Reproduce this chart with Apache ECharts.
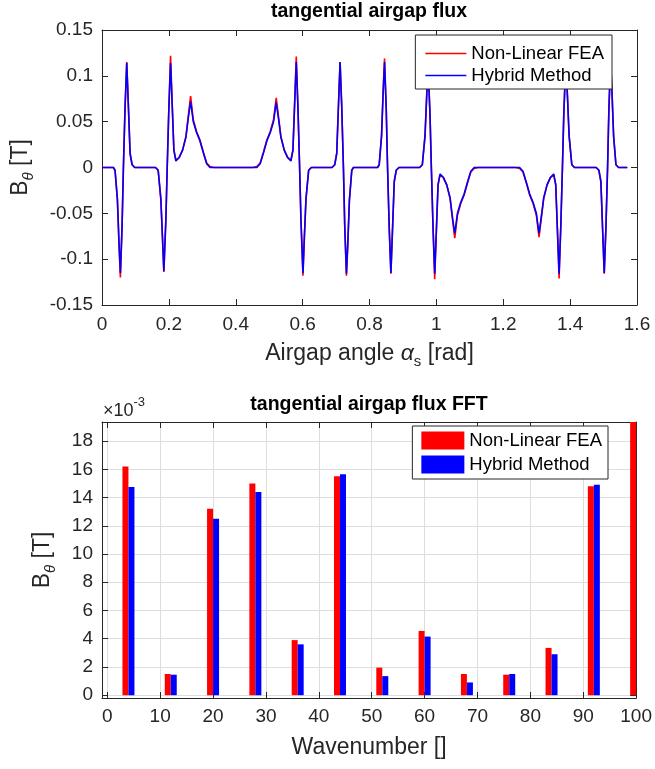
<!DOCTYPE html>
<html>
<head>
<meta charset="utf-8">
<script src="https://cdn.jsdelivr.net/npm/echarts@6/dist/echarts.min.js"></script>
<style>
  html, body { margin: 0; padding: 0; background: #fff; }
  #chart { width: 655px; height: 769px; }
</style>
</head>
<body>
<div id="chart"></div>
<script>
// tangential airgap flux (rad / T)
const angle = [
  0, 0.034, 0.039, 0.046, 0.051, 0.055, 0.060, 0.064, 0.069, 0.074, 0.079, 0.084, 0.090, 0.098,
  0.160, 0.168, 0.176, 0.181, 0.185, 0.191, 0.195, 0.200, 0.205, 0.211, 0.215, 0.221, 0.231, 0.241, 0.251, 0.258, 0.265, 0.273, 0.283, 0.293, 0.303, 0.313, 0.323, 0.335,
  0.450, 0.463, 0.473, 0.483, 0.493, 0.503, 0.513, 0.521, 0.528, 0.535, 0.545, 0.555, 0.565, 0.571, 0.575, 0.581, 0.586, 0.591, 0.595, 0.601, 0.605, 0.610, 0.618, 0.626,
  0.688, 0.696, 0.702, 0.707, 0.712, 0.717, 0.722, 0.726, 0.731, 0.735, 0.740, 0.747, 0.752,
  0.824, 0.829, 0.836, 0.841, 0.845, 0.850, 0.854, 0.859, 0.864, 0.869, 0.874, 0.880, 0.888,
  0.950, 0.958, 0.966, 0.971, 0.975, 0.981, 0.985, 0.990, 0.995, 1.001, 1.005, 1.011, 1.021, 1.031, 1.041, 1.048, 1.055, 1.063, 1.073, 1.083, 1.093, 1.103, 1.113, 1.125,
  1.237, 1.249, 1.259, 1.269, 1.279, 1.289, 1.299, 1.307, 1.314, 1.321, 1.331, 1.341, 1.351, 1.357, 1.361, 1.367, 1.372, 1.377, 1.381, 1.387, 1.392, 1.397, 1.405, 1.413,
  1.478, 1.486, 1.492, 1.497, 1.502, 1.507, 1.512, 1.516, 1.521, 1.525, 1.530, 1.537, 1.545, 1.571
];
const fluxFEA = [
  0, 0, -0.003, -0.035, -0.086, -0.120, -0.065, 0, 0.066, 0.115, 0.066, 0.016, 0.003, 0,
  0, -0.003, -0.035, -0.079, -0.114, -0.057, 0, 0.066, 0.122, 0.059, 0.019, 0.008, 0.011, 0.019, 0.034, 0.056, 0.078, 0.052, 0.039, 0.030, 0.017, 0.005, 0.001, 0,
  0, 0.001, 0.005, 0.017, 0.030, 0.039, 0.052, 0.076, 0.055, 0.034, 0.019, 0.011, 0.008, 0.019, 0.059, 0.121, 0.066, 0, -0.057, -0.118, -0.079, -0.035, -0.003, 0,
  0, 0.003, 0.016, 0.066, 0.115, 0.066, 0, -0.065, -0.118, -0.086, -0.035, -0.003, 0,
  0, 0.003, 0.035, 0.086, 0.119, 0.065, 0, -0.066, -0.116, -0.066, -0.016, -0.003, 0,
  0, 0.003, 0.035, 0.079, 0.114, 0.057, 0, -0.066, -0.122, -0.059, -0.019, -0.008, -0.011, -0.019, -0.034, -0.056, -0.077, -0.052, -0.039, -0.030, -0.017, -0.005, -0.001, 0,
  0, -0.001, -0.005, -0.017, -0.030, -0.039, -0.052, -0.076, -0.055, -0.034, -0.019, -0.011, -0.008, -0.019, -0.059, -0.121, -0.066, 0, 0.057, 0.116, 0.079, 0.035, 0.003, 0,
  0, -0.003, -0.016, -0.066, -0.116, -0.066, 0, 0.065, 0.117, 0.086, 0.035, 0.003, 0, 0
];
const fluxHybrid = [
  0, 0, -0.003, -0.034, -0.083, -0.115, -0.064, 0, 0.066, 0.114, 0.066, 0.015, 0.003, 0,
  0, -0.003, -0.034, -0.077, -0.113, -0.057, 0, 0.065, 0.114, 0.058, 0.019, 0.007, 0.011, 0.019, 0.033, 0.054, 0.072, 0.050, 0.038, 0.029, 0.016, 0.004, 0, 0,
  0, 0, 0.004, 0.016, 0.029, 0.038, 0.050, 0.071, 0.053, 0.033, 0.019, 0.011, 0.007, 0.019, 0.058, 0.115, 0.065, 0, -0.057, -0.115, -0.077, -0.034, -0.003, 0,
  0, 0.003, 0.015, 0.066, 0.115, 0.066, 0, -0.064, -0.116, -0.083, -0.035, -0.003, 0,
  0, 0.003, 0.034, 0.083, 0.115, 0.064, 0, -0.066, -0.115, -0.066, -0.015, -0.003, 0,
  0, 0.003, 0.034, 0.077, 0.113, 0.057, 0, -0.065, -0.116, -0.058, -0.019, -0.007, -0.011, -0.019, -0.033, -0.054, -0.072, -0.050, -0.038, -0.029, -0.016, -0.004, 0, 0,
  0, 0, -0.004, -0.016, -0.029, -0.038, -0.050, -0.072, -0.053, -0.033, -0.019, -0.011, -0.007, -0.019, -0.058, -0.116, -0.065, 0, 0.057, 0.115, 0.077, 0.034, 0.003, 0,
  0, -0.003, -0.015, -0.066, -0.115, -0.066, 0, 0.064, 0.115, 0.083, 0.034, 0.003, 0, 0
];

// FFT amplitudes (x 10^-3 T); the hybrid bar at 100 falls outside the axes
const waveNumbers = [4, 12, 20, 28, 36, 44, 52, 60, 68, 76, 84, 92, 100];
const fftFEA = [16.2, 1.5, 13.2, 15.0, 3.9, 15.5, 1.95, 4.55, 1.5, 1.45, 3.35, 14.8, 30];
const fftHybrid = [14.75, 1.45, 12.5, 14.4, 3.6, 15.65, 1.35, 4.15, 0.9, 1.5, 2.9, 14.9, null];

const seriesNames = ["Non-Linear FEA", "Hybrid Method"];

const FONT = '"Liberation Sans", Arial, sans-serif';
const INK = "#262626";
const RED = "#ff0000";
const BLUE = "#0000ff";

const chart = echarts.init(document.getElementById("chart"));

function boxAxis(gridIndex, position) {
  // axis without labels, only for the inward ticks on the top / right edge
  return {
    gridIndex: gridIndex,
    type: "value",
    position: position,
    axisLine: { show: true, onZero: false, lineStyle: { color: INK, width: 1 } },
    axisTick: { show: true, inside: true, length: 6, lineStyle: { color: INK } },
    axisLabel: { show: false },
    splitLine: { show: false }
  };
}

const mainAxisLine = { show: true, onZero: false, lineStyle: { color: INK, width: 1 } };
const mainTick = { show: true, inside: true, length: 6, lineStyle: { color: INK } };
const tickLabel = { color: INK, fontSize: 19, fontFamily: FONT };
const thetaName = {
  rich: {
    b: { fontSize: 23, fontFamily: FONT, color: INK, lineHeight: 30 },
    s: { fontSize: 15, fontFamily: FONT, color: INK, lineHeight: 15, verticalAlign: "bottom", fontStyle: "italic" }
  }
};

const option = {
  animation: false,
  backgroundColor: "#fff",
  textStyle: { fontFamily: FONT },
  title: [
    {
      text: "tangential airgap flux",
      left: 369, top: 2, textAlign: "center", padding: 0,
      textStyle: { fontSize: 19.5, fontWeight: "bold", color: "#000", fontFamily: FONT }
    },
    {
      text: "tangential airgap flux FFT",
      left: 369, top: 395, textAlign: "center", padding: 0,
      textStyle: { fontSize: 19.5, fontWeight: "bold", color: "#000", fontFamily: FONT }
    }
  ],
  legend: [
    {
      data: [
        { name: seriesNames[0], icon: "rect", itemStyle: { color: RED, borderWidth: 0 } },
        { name: seriesNames[1], icon: "rect", itemStyle: { color: BLUE, borderWidth: 0 } }
      ],
      orient: "vertical",
      right: 43, top: 35,
      padding: [9, 8, 4, 10],
      itemGap: 3,
      itemWidth: 41, itemHeight: 1.5,
      backgroundColor: "#fff",
      borderColor: INK, borderWidth: 1,
      textStyle: { fontSize: 18.5, color: "#000", fontFamily: FONT }
    },
    {
      data: [
        { name: seriesNames[0], icon: "rect", itemStyle: { color: RED, borderWidth: 0 } },
        { name: seriesNames[1], icon: "rect", itemStyle: { color: BLUE, borderWidth: 0 } }
      ],
      orient: "vertical",
      right: 47, top: 426,
      padding: [5, 6, 5, 9],
      itemGap: 5,
      itemWidth: 43, itemHeight: 18,
      backgroundColor: "#fff",
      borderColor: INK, borderWidth: 1,
      textStyle: { fontSize: 18.5, color: "#000", fontFamily: FONT }
    }
  ],
  graphic: [
    {
      type: "text",
      left: 103, top: 396,
      style: {
        text: "{a|×10}{b|-3}",
        fill: INK,
        rich: {
          a: { fontSize: 18, fontFamily: FONT, fill: INK, lineHeight: 24, verticalAlign: "bottom" },
          b: { fontSize: 13, fontFamily: FONT, fill: INK, lineHeight: 14, verticalAlign: "top" }
        }
      }
    }
  ],
  grid: [
    { left: 102, top: 30, width: 535, height: 275, containLabel: false },
    { left: 102, top: 422, width: 536, height: 276, containLabel: false }
  ],
  xAxis: [
    {
      gridIndex: 0, type: "value", min: 0, max: 1.6, interval: 0.2,
      axisLine: mainAxisLine, axisTick: mainTick,
      axisLabel: Object.assign({ margin: 10 }, tickLabel),
      splitLine: { show: false },
      name: "{t|Airgap angle }{a|α}{s|s}{t| [rad]}",
      nameLocation: "middle", nameGap: 34,
      nameTextStyle: {
        rich: {
          t: { fontSize: 23, fontFamily: FONT, color: INK, lineHeight: 30 },
          a: { fontSize: 23, fontFamily: FONT, color: INK, lineHeight: 30, fontStyle: "italic" },
          s: { fontSize: 15, fontFamily: FONT, color: INK, lineHeight: 15, verticalAlign: "bottom" }
        }
      }
    },
    Object.assign(boxAxis(0, "top"), { min: 0, max: 1.6, interval: 0.2 }),
    {
      gridIndex: 1, type: "value", min: -1, max: 100, splitNumber: 10,
      axisLine: mainAxisLine, axisTick: mainTick,
      axisLabel: Object.assign({ margin: 9, showMinLabel: false }, tickLabel),
      splitLine: { show: true, lineStyle: { color: "#dedede", width: 1 } },
      name: "Wavenumber []",
      nameLocation: "middle", nameGap: 38,
      nameTextStyle: { fontSize: 23, fontFamily: FONT, color: INK }
    },
    Object.assign(boxAxis(1, "top"), { min: -1, max: 100, splitNumber: 10 })
  ],
  yAxis: [
    {
      gridIndex: 0, type: "value", min: -0.15, max: 0.15, interval: 0.05,
      axisLine: mainAxisLine, axisTick: mainTick,
      axisLabel: Object.assign({ margin: 9 }, tickLabel),
      splitLine: { show: false },
      name: "{b|B}{s|θ}{b| [T]}",
      nameLocation: "middle", nameGap: 66,
      nameTextStyle: thetaName
    },
    Object.assign(boxAxis(0, "right"), { min: -0.15, max: 0.15, interval: 0.05 }),
    {
      gridIndex: 1, type: "value", min: -0.2, max: 19.35, splitNumber: 10,
      axisLine: mainAxisLine, axisTick: mainTick,
      axisLabel: Object.assign({ margin: 9, showMinLabel: false, showMaxLabel: false }, tickLabel),
      splitLine: { show: true, lineStyle: { color: "#dedede", width: 1 } },
      name: "{b|B}{s|θ}{b| [T]}",
      nameLocation: "middle", nameGap: 44,
      nameTextStyle: thetaName
    },
    Object.assign(boxAxis(1, "right"), { min: -0.2, max: 19.35, splitNumber: 10 })
  ],
  series: [
    {
      name: seriesNames[0], type: "line", xAxisIndex: 0, yAxisIndex: 0,
      symbol: "none", showSymbol: false,
      lineStyle: { color: RED, width: 1.6 },
      itemStyle: { color: RED },
      data: angle.map((a, i) => [a, fluxFEA[i]])
    },
    {
      name: seriesNames[1], type: "line", xAxisIndex: 0, yAxisIndex: 0,
      symbol: "none", showSymbol: false,
      lineStyle: { color: BLUE, width: 1.6 },
      itemStyle: { color: BLUE },
      data: angle.map((a, i) => [a, fluxHybrid[i]])
    },
    {
      name: seriesNames[0], type: "bar", xAxisIndex: 2, yAxisIndex: 2,
      barWidth: 6, barGap: "0%", clip: true,
      itemStyle: { color: RED },
      data: waveNumbers.map((w, i) => [w, fftFEA[i]])
    },
    {
      name: seriesNames[1], type: "bar", xAxisIndex: 2, yAxisIndex: 2,
      barWidth: 6, barGap: "0%", clip: true,
      itemStyle: { color: BLUE },
      data: waveNumbers.map((w, i) => [w, fftHybrid[i]])
    }
  ]
};

chart.setOption(option);
</script>
</body>
</html>
